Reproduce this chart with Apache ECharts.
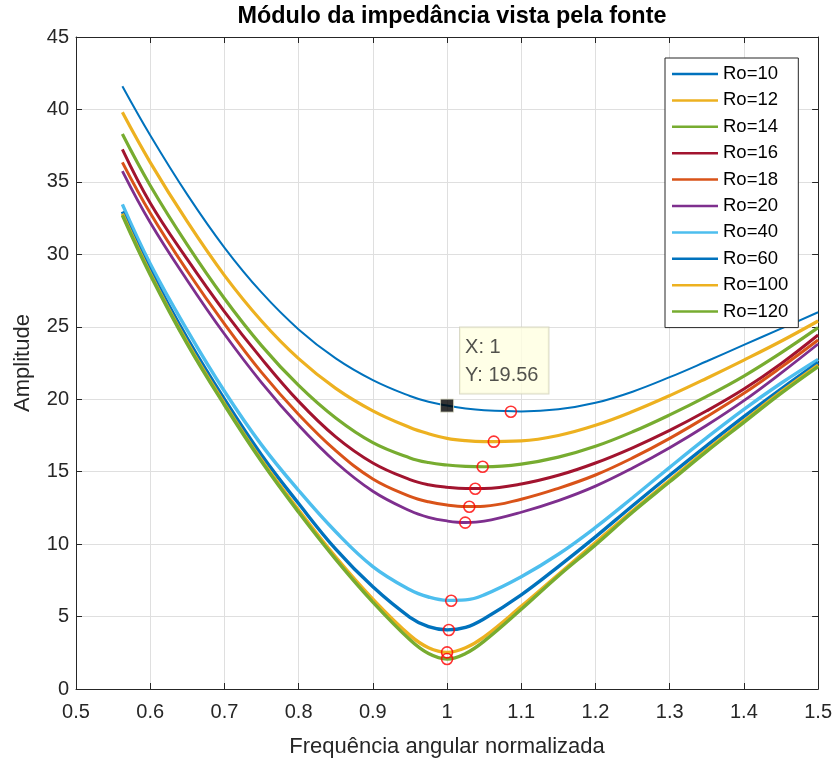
<!DOCTYPE html>
<html>
<head>
<meta charset="utf-8">
<script src="https://cdn.jsdelivr.net/npm/echarts@6/dist/echarts.min.js"></script>
<style>
  html, body { margin: 0; padding: 0; background: #fff; }
  #chart { width: 835px; height: 763px; }
</style>
</head>
<body>
<div id="chart"></div>
<script>
// Normalised angular frequency samples shared by every curve
const freq = [0.5625, 0.6, 0.65, 0.7, 0.75, 0.8, 0.85, 0.9, 0.95, 0.975, 1.0, 1.025, 1.05, 1.1, 1.15, 1.2, 1.25, 1.3, 1.35, 1.4, 1.45, 1.5];

// |Z| seen by the source, one array per load resistance
const ro10  = [41.6, 38.22, 34.12, 30.47, 27.37, 24.82, 22.82, 21.32, 20.22, 19.82, 19.56, 19.36, 19.24, 19.16, 19.3, 19.75, 20.52, 21.52, 22.62, 23.75, 24.87, 26.0];
const ro12  = [39.8, 36.35, 32.25, 28.55, 25.4, 22.8, 20.75, 19.2, 18.05, 17.62, 17.3, 17.14, 17.08, 17.13, 17.5, 18.2, 19.15, 20.25, 21.45, 22.7, 24.0, 25.4];
const ro14  = [38.3, 34.75, 30.65, 26.95, 23.7, 20.95, 18.7, 17.0, 15.95, 15.63, 15.46, 15.37, 15.34, 15.52, 16.0, 16.75, 17.75, 18.92, 20.2, 21.6, 23.2, 24.94];
const ro16  = [37.25, 33.55, 29.65, 26.05, 22.8, 19.85, 17.4, 15.6, 14.45, 14.1, 13.92, 13.83, 13.84, 14.15, 14.75, 15.6, 16.65, 17.85, 19.2, 20.7, 22.45, 24.43];
const ro18  = [36.35, 32.85, 28.85, 25.2, 21.85, 18.95, 16.45, 14.5, 13.3, 12.92, 12.7, 12.6, 12.62, 13.1, 13.85, 14.77, 15.95, 17.3, 18.8, 20.41, 22.2, 24.09];
const ro20  = [35.75, 32.2, 28.2, 24.5, 21.15, 18.2, 15.65, 13.65, 12.3, 11.85, 11.6, 11.49, 11.58, 12.2, 13.0, 14.0, 15.25, 16.65, 18.2, 19.9, 21.8, 23.81];
const ro40  = [33.45, 29.35, 24.75, 20.55, 16.85, 13.7, 10.85, 8.45, 6.85, 6.35, 6.12, 6.15, 6.5, 7.75, 9.3, 11.15, 13.2, 15.3, 17.35, 19.3, 21.1, 22.75];
const ro60  = [32.95, 28.9, 24.2, 20.0, 16.15, 12.8, 9.65, 7.05, 4.95, 4.3, 4.08, 4.25, 4.85, 6.5, 8.45, 10.5, 12.65, 14.75, 16.8, 18.8, 20.7, 22.52];
const ro100 = [32.8, 28.7, 23.9, 19.7, 15.8, 12.35, 9.1, 6.2, 3.7, 2.85, 2.53, 2.85, 3.6, 5.7, 7.9, 10.1, 12.3, 14.4, 16.5, 18.5, 20.5, 22.36];
const ro120 = [32.7, 28.6, 23.8, 19.6, 15.7, 12.2, 8.95, 6.0, 3.4, 2.45, 2.07, 2.45, 3.3, 5.5, 7.8, 9.95, 12.2, 14.3, 16.4, 18.4, 20.4, 22.25];

const seriesNames = ['Ro=10', 'Ro=12', 'Ro=14', 'Ro=16', 'Ro=18', 'Ro=20', 'Ro=40', 'Ro=60', 'Ro=100', 'Ro=120'];
const seriesValues = [ro10, ro12, ro14, ro16, ro18, ro20, ro40, ro60, ro100, ro120];

// Minimum of each curve (red circles)
const minFreq = [1.086, 1.063, 1.048, 1.038, 1.030, 1.0245, 1.0056, 1.0024, 1.0, 1.0];
const minAmp  = [19.14, 17.07, 15.34, 13.82, 12.58, 11.48, 6.09, 4.07, 2.53, 2.07];

// Data cursor on the Ro=10 curve
const tipFreq = 1;
const tipAmp = 19.56;

// Tick labels
const xTickLabels = ['0.5', '0.6', '0.7', '0.8', '0.9', '1', '1.1', '1.2', '1.3', '1.4', '1.5'];
const yTickLabels = ['0', '5', '10', '15', '20', '25', '30', '35', '40', '45'];

const palette = ['#0072BD', '#EDB120', '#77AC30', '#A2142F', '#D95319', '#7E2F8E', '#4DBEEE', '#0072BD', '#EDB120', '#77AC30'];
const widths = [2, 3.2, 3.2, 3, 3, 2.8, 3.4, 3.4, 3.4, 3.4];

const FONT = '"Liberation Sans", Arial, Helvetica, sans-serif';
const AXIS_COLOR = '#262626';

const lineSeries = seriesNames.map((name, k) => ({
  name: name,
  type: 'line',
  data: freq.map((f, i) => [f, seriesValues[k][i]]),
  smooth: 0.4,
  showSymbol: false,
  symbol: 'none',
  color: palette[k],
  lineStyle: { width: widths[k], color: palette[k] },
  z: 2 + k * 0.01,
  animation: false
}));

const minSeries = {
  name: 'min',
  type: 'scatter',
  data: minFreq.map((f, i) => [f, minAmp[i]]),
  symbol: 'circle',
  symbolSize: 11,
  itemStyle: { color: 'rgba(0,0,0,0)', borderColor: '#FF0000', borderWidth: 1.6 },
  z: 5,
  animation: false,
  silent: true
};

const tipSeries = {
  name: 'cursor',
  type: 'scatter',
  data: [[tipFreq, tipAmp]],
  symbol: 'rect',
  symbolSize: 13,
  itemStyle: { color: '#000000', borderColor: '#d8d8c0', borderWidth: 1 },
  label: {
    show: true,
    position: [20, -71],
    formatter: 'X: ' + tipFreq + '\nY: ' + tipAmp.toFixed(2),
    fontFamily: FONT,
    fontSize: 20,
    lineHeight: 28,
    color: '#262626',
    backgroundColor: '#FFFFE1',
    borderColor: '#CFCFB8',
    borderWidth: 1,
    padding: [6, 10, 4, 5]
  },
  z: 6,
  animation: false,
  silent: true
};

const chart = echarts.init(document.getElementById('chart'), null, { renderer: 'canvas' });

chart.setOption({
  backgroundColor: '#ffffff',
  animation: false,
  title: {
    text: 'Módulo da impedância vista pela fonte',
    left: 447,
    textAlign: 'center',
    top: 0,
    textStyle: { fontFamily: FONT, fontWeight: 'bold', fontSize: 23.4, color: '#000000' }
  },
  grid: { left: 76, right: 16, top: 37, bottom: 74, containLabel: false },
  legend: {
    data: seriesNames,
    orient: 'vertical',
    left: 665,
    top: 58,
    icon: 'rect',
    itemWidth: 46,
    itemHeight: 2.5,
    itemGap: 6.4,
    padding: [6, 10, 6, 7],
    backgroundColor: '#ffffff',
    borderColor: AXIS_COLOR,
    borderWidth: 1,
    borderRadius: 0,
    selectedMode: false,
    textStyle: { fontFamily: FONT, fontSize: 18.5, color: '#000000', lineHeight: 20 }
  },
  xAxis: [
    {
      type: 'value',
      min: 0.5,
      max: 1.5,
      interval: 0.1,
      position: 'bottom',
      name: 'Frequência angular normalizada',
      nameLocation: 'middle',
      nameGap: 47,
      nameTextStyle: { fontFamily: FONT, fontSize: 22, color: AXIS_COLOR },
      axisLine: { show: true, onZero: false, lineStyle: { color: AXIS_COLOR, width: 1 } },
      axisTick: { show: true, inside: true, length: 6, lineStyle: { color: AXIS_COLOR } },
      axisLabel: {
        margin: 13,
        fontFamily: FONT,
        fontSize: 20,
        color: AXIS_COLOR,
        formatter: v => xTickLabels[Math.round((v - 0.5) / 0.1)]
      },
      splitLine: { show: true, lineStyle: { color: '#dfdfdf', width: 1 } }
    },
    {
      type: 'value',
      min: 0.5,
      max: 1.5,
      interval: 0.1,
      position: 'top',
      axisLine: { show: true, onZero: false, lineStyle: { color: AXIS_COLOR, width: 1 } },
      axisTick: { show: true, inside: true, length: 6, lineStyle: { color: AXIS_COLOR } },
      axisLabel: { show: false },
      splitLine: { show: false }
    }
  ],
  yAxis: [
    {
      type: 'value',
      min: 0,
      max: 45,
      interval: 5,
      position: 'left',
      name: 'Amplitude',
      nameLocation: 'middle',
      nameGap: 42,
      nameRotate: 90,
      nameTextStyle: { fontFamily: FONT, fontSize: 22, color: AXIS_COLOR },
      axisLine: { show: true, onZero: false, lineStyle: { color: AXIS_COLOR, width: 1 } },
      axisTick: { show: true, inside: true, length: 6, lineStyle: { color: AXIS_COLOR } },
      axisLabel: {
        margin: 7,
        fontFamily: FONT,
        fontSize: 20,
        color: AXIS_COLOR,
        formatter: v => yTickLabels[Math.round(v / 5)]
      },
      splitLine: { show: true, lineStyle: { color: '#dfdfdf', width: 1 } }
    },
    {
      type: 'value',
      min: 0,
      max: 45,
      interval: 5,
      position: 'right',
      axisLine: { show: true, onZero: false, lineStyle: { color: AXIS_COLOR, width: 1 } },
      axisTick: { show: true, inside: true, length: 6, lineStyle: { color: AXIS_COLOR } },
      axisLabel: { show: false },
      splitLine: { show: false }
    }
  ],
  series: lineSeries.concat([minSeries, tipSeries])
});
</script>
</body>
</html>
